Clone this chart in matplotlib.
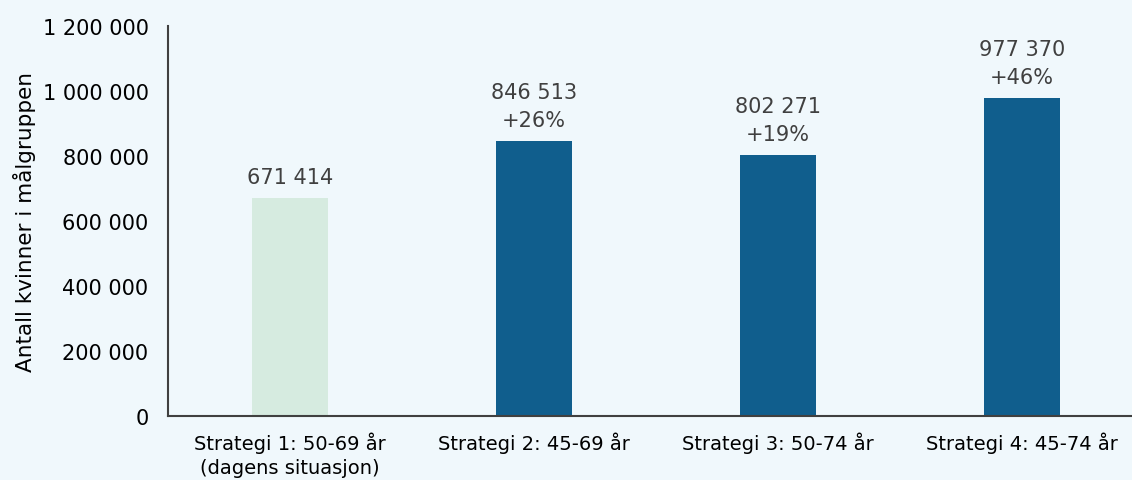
import matplotlib.pyplot as plt
from matplotlib.ticker import FuncFormatter

categories = ["Strategi 1: 50-69 år\n(dagens situasjon)", "Strategi 2: 45-69 år",
              "Strategi 3: 50-74 år", "Strategi 4: 45-74 år"]
values = [671414, 846513, 802271, 977370]
y_ticks = [0, 200000, 400000, 600000, 800000, 1000000, 1200000]

BG = "#F0F8FC"
GREEN = "#D6EBE0"
BLUE = "#105E8D"


def fmt_space(v):
    return f"{int(v):,}".replace(",", " ")


def main():
    plt.rcParams["font.family"] = ["DejaVu Sans"]
    fig = plt.figure(figsize=(11.32, 4.81), dpi=100, facecolor=BG)
    ax = fig.add_axes([168 / 1132, 64 / 481, 976 / 1132, 390 / 481], facecolor=BG)

    x = list(range(len(categories)))
    colors = [GREEN] + [BLUE] * (len(categories) - 1)
    ax.bar(x, values, width=0.315, color=colors)

    # value labels, with growth relative to today's programme
    base = values[0]
    for i, v in enumerate(values):
        if i == 0:
            label = fmt_space(v)
        else:
            label = f"{fmt_space(v)}\n+{round((v / base - 1) * 100)}%"
        ax.annotate(label, (i, v), xytext=(0, 8), textcoords="offset points",
                    ha="center", va="bottom", fontsize=15, color="#404040",
                    linespacing=1.5)

    ax.set_xlim(-0.5, len(categories) - 0.5)
    ax.set_ylim(0, 1200000)
    ax.set_yticks(y_ticks)
    ax.yaxis.set_major_formatter(FuncFormatter(lambda v, p: fmt_space(v)))
    ax.set_xticks(x)
    ax.set_xticklabels(categories, fontsize=14, color="black", linespacing=1.35)
    ax.tick_params(axis="y", length=0, pad=14, labelsize=15, labelcolor="black")
    ax.tick_params(axis="x", length=0, pad=11)
    ax.set_ylabel("Antall kvinner i målgruppen", fontsize=15.5, labelpad=5)

    for s in ["top", "right"]:
        ax.spines[s].set_visible(False)
    for s in ["left", "bottom"]:
        ax.spines[s].set_color("#404040")
        ax.spines[s].set_linewidth(1.5)

    fig.savefig("out.png", dpi=100, facecolor=BG)


if __name__ == "__main__":
    main()
